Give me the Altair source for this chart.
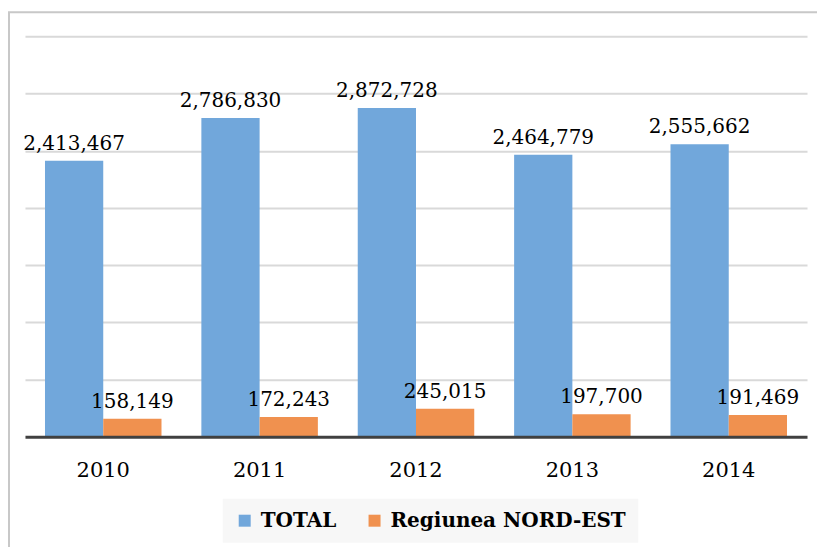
import altair as alt
import pandas as pd

years = ["2010", "2011", "2012", "2013", "2014"]
series = ["TOTAL", "Regiunea NORD-EST"]
total = [2413467, 2786830, 2872728, 2464779, 2555662]
nordest = [158149, 172243, 245015, 197700, 191469]
colors = ["#71A7DB", "#F0914F"]

rows = []
for i, y in enumerate(years):
    rows.append({"year": y, "series": series[0], "value": total[i]})
    rows.append({"year": y, "series": series[1], "value": nordest[i]})
df = pd.DataFrame(rows)

FONT = "DejaVu Serif"

x_enc = alt.X(
    "year:N",
    sort=years,
    scale=alt.Scale(paddingInner=0.255, paddingOuter=0.128),
    axis=alt.Axis(
        title=None,
        labelAngle=0,
        labelFont=FONT,
        labelFontSize=21,
        labelColor="#000000",
        labelPadding=23,
        ticks=False,
        domainColor="#404040",
        domainWidth=3,
        grid=False,
        zindex=1,
    ),
)
xo_enc = alt.XOffset("series:N", sort=series, scale=alt.Scale(paddingInner=0))
y_enc = alt.Y(
    "value:Q",
    scale=alt.Scale(domain=[0, 3500000], nice=False),
    axis=alt.Axis(
        title=None,
        labels=False,
        ticks=False,
        domain=False,
        values=[500000, 1000000, 1500000, 2000000, 2500000, 3000000, 3500000],
        gridColor="#d9d9d9",
        gridWidth=2,
    ),
)

base = alt.Chart(df)

bars = base.mark_bar().encode(
    x=x_enc,
    xOffset=xo_enc,
    y=y_enc,
    color=alt.Color(
        "series:N",
        sort=series,
        scale=alt.Scale(domain=series, range=colors),
        legend=alt.Legend(
            title=None,
            orient="none",
            legendX=198,
            legendY=463,
            direction="horizontal",
            fillColor="#f7f7f7",
            padding=12,
            symbolType="square",
            symbolSize=144,
            symbolStrokeWidth=0,
            labelFont=FONT,
            labelFontWeight="bold",
            labelFontSize=20,
            labelColor="#000000",
            labelOffset=6,
            labelLimit=0,
            columnPadding=28,
        ),
    ),
)

labels = base.mark_text(
    dy=-11, baseline="alphabetic", font=FONT, fontSize=20, color="#000000"
).encode(
    x=x_enc,
    xOffset=xo_enc,
    y=y_enc,
    text=alt.Text("value:Q", format=","),
)

border = alt.Chart(pd.DataFrame({"a": [0]})).mark_rect(
    fill=None, stroke="#c8c8c8", strokeWidth=2, clip=False
).encode(
    x=alt.value(-16), x2=alt.value(900), y=alt.value(-24), y2=alt.value(700)
)

chart = alt.layer(border, bars, labels).properties(
    width=783,
    height=401,
    autosize=alt.AutoSizeParams(type="none"),
    padding={"left": 17, "top": 28, "right": 10, "bottom": 110},
).configure_view(stroke=None)

chart.save("out.html", embed_options={"renderer": "svg", "actions": False})
